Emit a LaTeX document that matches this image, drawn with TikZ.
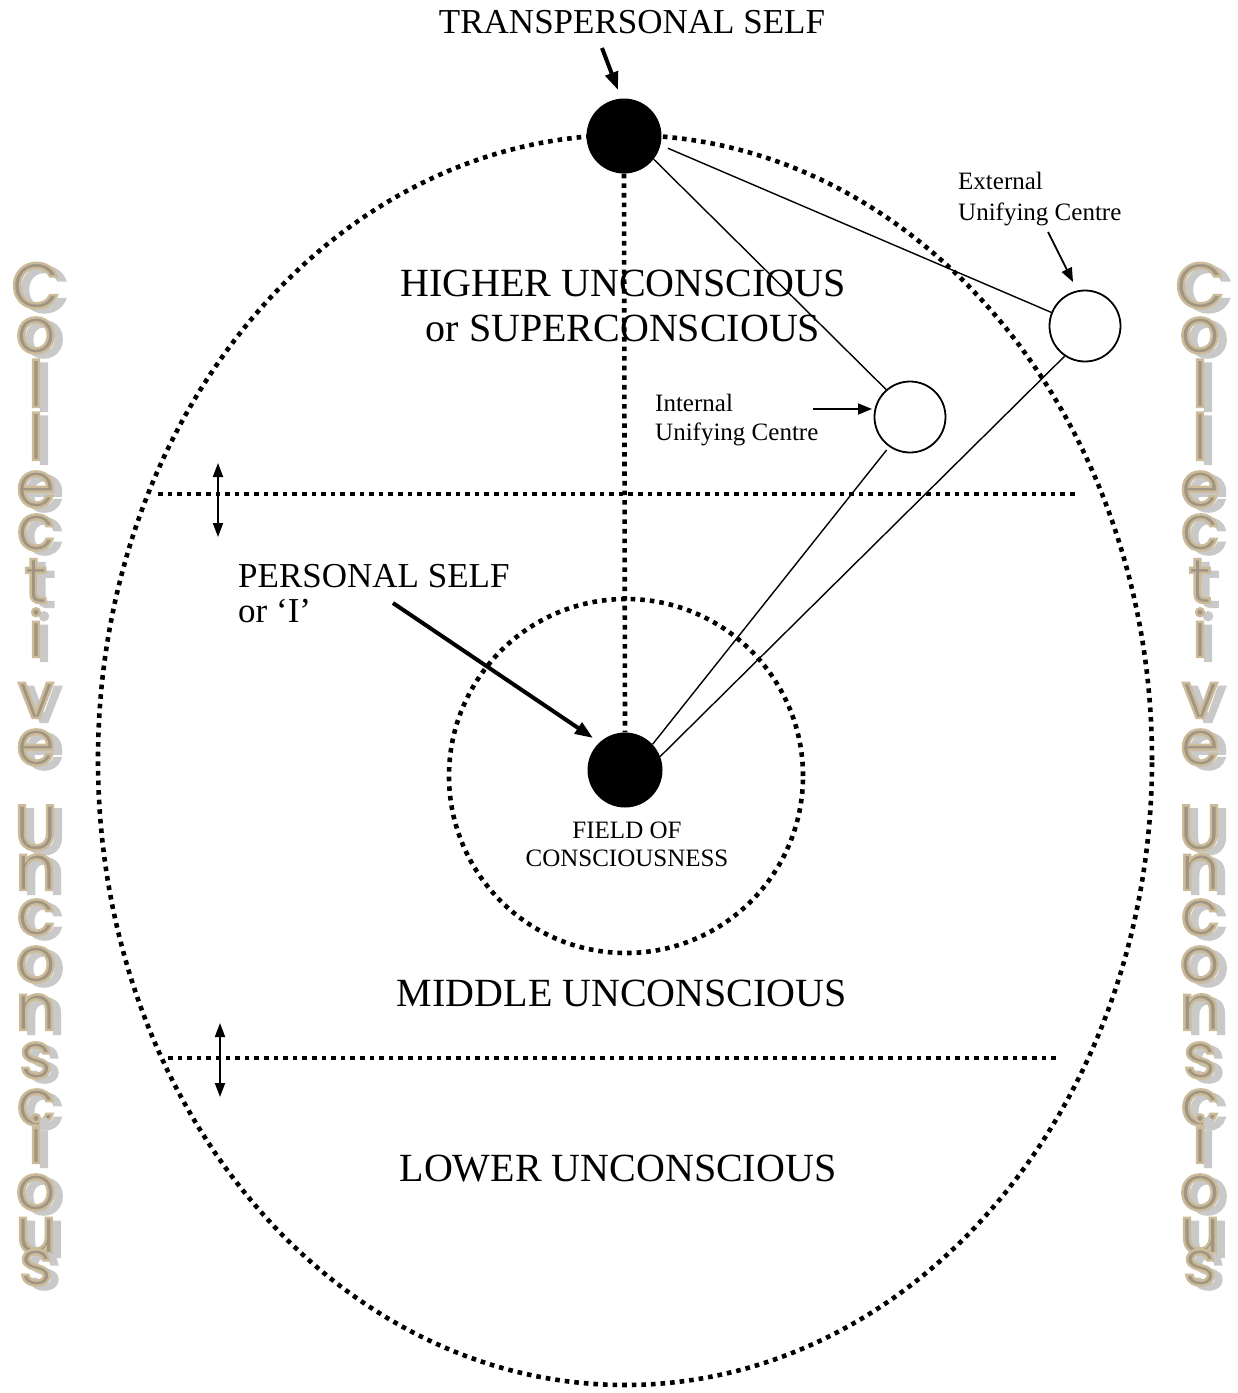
\documentclass[tikz,border=0pt]{standalone}
\usepackage{fontspec}
\setmainfont{Liberation Serif}
\newfontfamily\sidefont{Poppins}
\usetikzlibrary{arrows.meta,calc}
\definecolor{stone}{HTML}{A09484}
\definecolor{tanedge}{HTML}{CBBB98}
\definecolor{shadowgray}{HTML}{C9C9C9}
\newcommand\outlinetan{\special{pdf:literal direct 2 Tr 2.4 w 0.796 0.733 0.596 RG}}
\newcommand\outlineplain{\special{pdf:literal direct 2 Tr 2.4 w}}
\begin{document}
\begin{tikzpicture}[x=1pt,y=-1pt,
  dotline/.style={line width=4.6pt, dash pattern=on 4.6pt off 5pt},
  blackdot/.style={circle, fill=black, minimum size=75pt, inner sep=0pt},
  whitedot/.style={circle, draw=black, line width=1.8pt, fill=white, minimum size=71pt, inner sep=0pt},
  link/.style={line width=1.4pt},
  bigarrow/.style={line width=4pt, -{Triangle[length=18pt,width=13pt]}},
  smallarrow/.style={line width=1.8pt, -{Triangle[length=14pt,width=11pt]}},
  dblarrow/.style={line width=2pt, {Triangle[length=14pt,width=10pt]}-{Triangle[length=14pt,width=10pt]}},
  biglabel/.style={font=\fontsize{40}{48}\selectfont, inner sep=0pt, anchor=base},
  midlabel/.style={font=\fontsize{35}{42}\selectfont, inner sep=0pt},
  smalllabel/.style={font=\fontsize{25}{30}\selectfont, inner sep=0pt},
  sidech/.style={font=\sidefont\fontsize{64}{64}\selectfont, anchor=base, inner sep=0pt}
]
\useasboundingbox (0,0) rectangle (1238,1393);

% side letters
\foreach \ch/\yy in {C/308,o/353,l/407,l/460,e/507,c/550,t/603,i/657,v/718,e/765,U/850,n/890,c/935,o/982,n/1030,s/1078,c/1125,i/1163,o/1210,u/1253,s/1285} {
  \foreach \xx in {36,1200} {
    \node[sidech, text=shadowgray] at (\xx+8,\yy+4) {\outlineplain\ch};
    \node[sidech, text=stone] at (\xx,\yy) {\outlinetan\ch};
  }
}

% main ellipse and field of consciousness
\draw[dotline] (625,760) ellipse [x radius=527pt, y radius=625pt];
\draw[dotline] (626,776) circle [radius=177pt];

% horizontal dividers
\coordinate (h1a) at (158,494); \coordinate (h1b) at (1078,494);
\coordinate (h2a) at (168,1058); \coordinate (h2b) at (1060,1058);
\draw[dotline] (h1a) -- (h1b);
\draw[dotline] (h2a) -- (h2b);

% centres
\node[blackdot] (T) at (624,136) {};
\node[blackdot] (P) at (625,770) {};
\node[whitedot] (I) at (910,417) {};
\node[whitedot] (E) at (1085,326) {};

\draw[dotline] (T.south) -- (P.north);

% links
\draw[link, shorten <=8pt] (T.-14) -- (E.158);
\draw[link] (T.-38) -- (I.131);
\draw[link, shorten <=4pt] (I.235) -- (P.43);
\draw[link] (E.236) -- (P.21);

% double arrows
\coordinate (d1a) at (218,463); \coordinate (d1b) at (218,537);
\coordinate (d2a) at (220,1023); \coordinate (d2b) at (220,1097);
\draw[dblarrow] (d1a) -- (d1b);
\draw[dblarrow] (d2a) -- (d2b);

% labels
\node[midlabel, anchor=base] (title) at (632,33) {TRANSPERSONAL SELF};
\coordinate (ta) at (602,48); \coordinate (tb) at (618,90);
\draw[bigarrow] (ta) -- (tb);

\node[biglabel] (hu1) at (623,296) {HIGHER UNCONSCIOUS};
\node[biglabel] (hu2) at (623,341) {or SUPERCONSCIOUS};
\node[biglabel] (mu) at (622,1006) {MIDDLE UNCONSCIOUS};
\node[biglabel] (lu) at (618,1181) {LOWER UNCONSCIOUS};

\node[midlabel, anchor=base west] (ps1) at (238,587) {PERSONAL SELF};
\node[midlabel, anchor=base west] (ps2) at (238,622) {or ‘I’};
\coordinate (pa) at (393,603); \coordinate (pb) at (593,738);
\draw[bigarrow] (pa) -- (pb);

\node[smalllabel, anchor=base west] (ex1) at (958,189) {External};
\node[smalllabel, anchor=base west] (ex2) at (958,220) {Unifying Centre};
\coordinate (ea) at (1048,232); \coordinate (eb) at (1073,282);
\draw[smallarrow] (ea) -- (eb);

\node[smalllabel, anchor=base west] (in1) at (655,411) {Internal};
\node[smalllabel, anchor=base west] (in2) at (655,440) {Unifying Centre};
\coordinate (ia) at (813,409); \coordinate (ib) at (872,409);
\draw[smallarrow] (ia) -- (ib);

\node[smalllabel, anchor=base] (fc1) at (627,838) {FIELD OF};
\node[smalllabel, anchor=base] (fc2) at (627,866) {CONSCIOUSNESS};
\end{tikzpicture}
\end{document}
